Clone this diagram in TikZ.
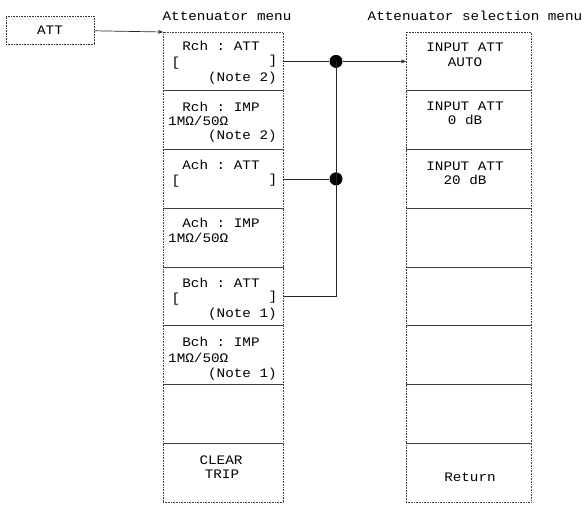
\documentclass[tikz,border=0pt]{standalone}
\usepackage{fontspec}
\setmonofont{Liberation Mono}[FakeStretch=1.1]
\usetikzlibrary{arrows.meta,positioning}

\begin{document}
\begin{tikzpicture}[
    x=1pt, y=-1pt,
    node distance=0pt,
    txt/.style={inner sep=0pt, text height=8.6pt, text depth=0pt, font=\fontsize{13}{15}\ttfamily},
    key/.style={rectangle, draw=black!80, densely dotted, line width=0.6pt, minimum width=88pt, minimum height=28pt, txt},
    menurow/.style={rectangle, draw=black!75, densely dotted, line width=0.6pt, minimum width=120pt, minimum height=58.75pt, inner sep=0pt, outer sep=0pt},
    selrow/.style={menurow, minimum width=125pt},
    wire/.style={draw=black!85, line width=0.7pt},
    arrow/.style={wire, -{Stealth[length=5pt, width=4pt]}},
    dot/.style={circle, fill=black, inner sep=0pt, minimum size=13pt},
  ]
  \useasboundingbox (0,0) rectangle (587,504);

  % key
  \node[key] (att) at (50,30) {ATT};

  % Attenuator menu
  \node[txt] (tmenu) at (227,16) {Attenuator menu};
  \node[menurow] (m1) at (223,61.375) {};
  \node[menurow, below=of m1] (m2) {};
  \node[menurow, below=of m2] (m3) {};
  \node[menurow, below=of m3] (m4) {};
  \node[menurow, below=of m4] (m5) {};
  \node[menurow, below=of m5] (m6) {};
  \node[menurow, below=of m6] (m7) {};
  \node[menurow, below=of m7] (m8) {};

  \node[txt] (m1a) at (221,46) {Rch : ATT};
  \node[txt] (m1b) at (176,62) {[};
  \node[txt] (m1c) at (273,60) {]};
  \node[txt, anchor=east] (m1d) at (277,77) {(Note 2)};

  \node[txt] (m2a) at (221,107) {Rch : IMP};
  \node[txt, anchor=west] (m2b) at (168,121) {1MΩ/50Ω};
  \node[txt, anchor=east] (m2c) at (277,135) {(Note 2)};

  \node[txt] (m3a) at (221,165) {Ach : ATT};
  \node[txt] (m3b) at (176,180) {[};
  \node[txt] (m3c) at (273,179) {]};

  \node[txt] (m4a) at (221,223) {Ach : IMP};
  \node[txt, anchor=west] (m4b) at (168,238) {1MΩ/50Ω};

  \node[txt] (m5a) at (221,283) {Bch : ATT};
  \node[txt] (m5b) at (176,298) {[};
  \node[txt] (m5c) at (273,296) {]};
  \node[txt, anchor=east] (m5d) at (277,313) {(Note 1)};

  \node[txt] (m6a) at (221,342) {Bch : IMP};
  \node[txt, anchor=west] (m6b) at (168,358) {1MΩ/50Ω};
  \node[txt, anchor=east] (m6c) at (277,373) {(Note 1)};

  \node[txt] (m8a) at (221,460) {CLEAR};
  \node[txt] (m8b) at (222,474) {TRIP};

  % Attenuator selection menu
  \node[txt] (tsel) at (475,16) {Attenuator selection menu};
  \node[selrow] (s1) at (468.5,61.375) {};
  \node[selrow, below=of s1] (s2) {};
  \node[selrow, below=of s2] (s3) {};
  \node[selrow, below=of s3] (s4) {};
  \node[selrow, below=of s4] (s5) {};
  \node[selrow, below=of s5] (s6) {};
  \node[selrow, below=of s6] (s7) {};
  \node[selrow, below=of s7] (s8) {};

  \node[txt] (s1a) at (465,47) {INPUT ATT};
  \node[txt] (s1b) at (465,62) {AUTO};
  \node[txt] (s2a) at (465,106) {INPUT ATT};
  \node[txt] (s2b) at (465,120) {0 dB};
  \node[txt] (s3a) at (465,166) {INPUT ATT};
  \node[txt] (s3b) at (465,180) {20 dB};
  \node[txt] (s8a) at (470,477) {Return};

  % connections
  \coordinate (busx) at (336,0);
  \node[dot] (j1) at (m1.east -| busx) {};
  \node[dot] (j2) at (m3.east -| busx) {};

  \draw[arrow] (att) -- (m1.north west);
  \draw[wire] (m1) -- (j1);
  \draw[arrow] (j1) -- (s1);
  \draw[wire] (m3) -- (j2);
  \draw[wire, line width=0.9pt] (m5.east) -| (j1.center);
\end{tikzpicture}
\end{document}
